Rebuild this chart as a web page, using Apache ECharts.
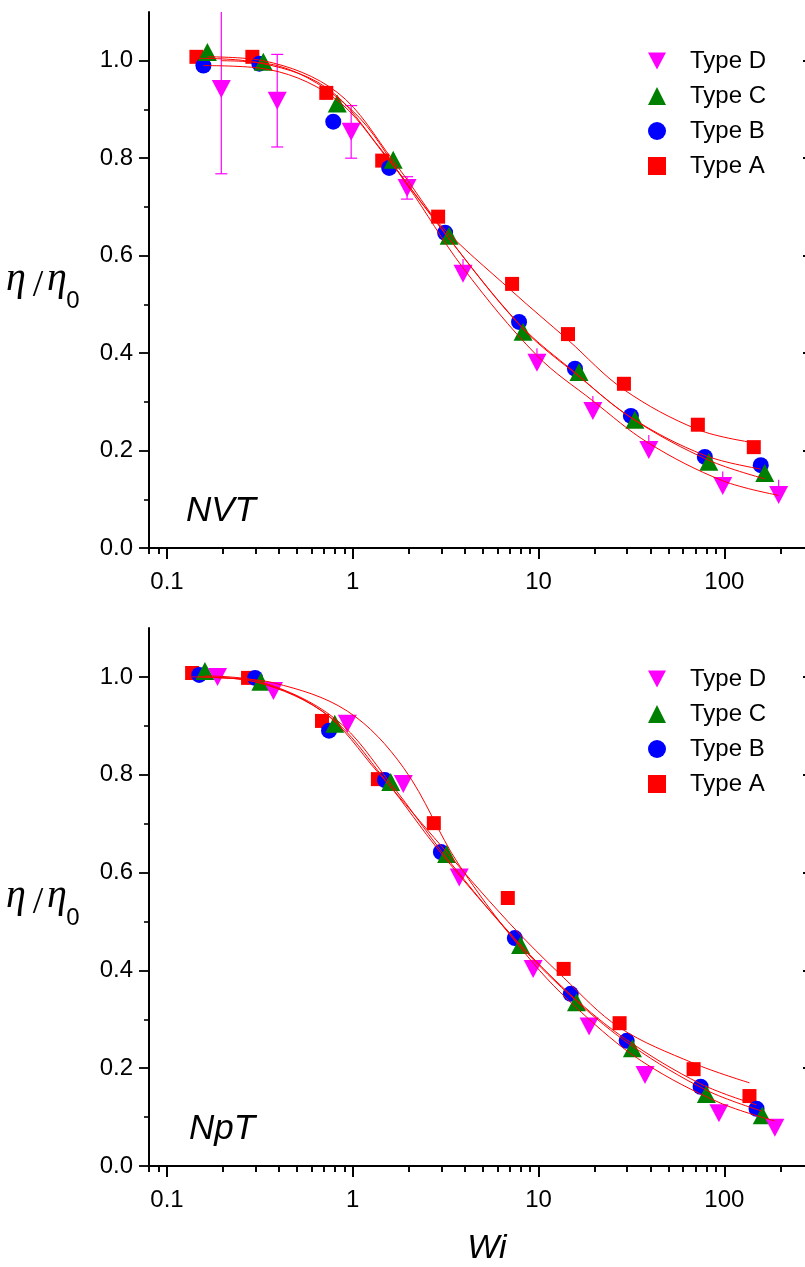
<!DOCTYPE html>
<html>
<head>
<meta charset="utf-8">
<script src="https://cdn.jsdelivr.net/npm/echarts@6/dist/echarts.min.js"></script>
<style>html,body{margin:0;padding:0;background:#fff}#c{width:805px;height:1267px}</style>
</head>
<body>
<div id="c"></div>
<script>
// ---------- data ----------
const LEGEND_ORDER = ['Type D', 'Type C', 'Type B', 'Type A'];
const X_MAJOR = [0.1, 1, 10, 100];
const X_MINOR = [0.08, 0.09, 0.2, 0.3, 0.4, 0.5, 0.6, 0.7, 0.8, 0.9, 2, 3, 4, 5, 6, 7, 8, 9, 20, 30, 40, 50, 60, 70, 80, 90, 200, 300];
const Y_MAJOR = [0, 0.2, 0.4, 0.6, 0.8, 1.0];
const Y_MINOR = [0.1, 0.3, 0.5, 0.7, 0.9];

// NVT (top panel)
const nvtA_x = [0.144, 0.288, 0.72, 1.44, 2.88, 7.2, 14.4, 28.8, 72, 144];
const nvtA_y = [1.008, 1.008, 0.934, 0.795, 0.680, 0.542, 0.439, 0.337, 0.253, 0.207];
const nvtB_x = [0.157, 0.314, 0.785, 1.57, 3.14, 7.85, 15.7, 31.4, 78.5, 157];
const nvtB_y = [0.990, 0.994, 0.875, 0.780, 0.647, 0.464, 0.368, 0.271, 0.187, 0.170];
const nvtC_x = [0.165, 0.33, 0.825, 1.65, 3.3, 8.25, 16.5, 33, 82.5, 165];
const nvtC_y = [1.018, 0.998, 0.912, 0.797, 0.641, 0.444, 0.361, 0.263, 0.177, 0.154];
const nvtD_x = [0.196, 0.392, 0.98, 1.96, 3.92, 9.8, 19.6, 39.2, 98, 196];
const nvtD_y = [0.942, 0.918, 0.854, 0.739, 0.563, 0.380, 0.281, 0.201, 0.127, 0.109];
const nvtD_errUp = [0.174, 0.095, 0.054, 0.023, 0.030, 0.030, 0.031, 0.031, 0.030, 0.031];
const nvtD_errDown = [0.174, 0.095, 0.054, 0.023, 0, 0, 0, 0, 0, 0];
const nvtA_fit = [1.005, 0.998, 0.945, 0.815, 0.668, 0.527, 0.427, 0.325, 0.243, 0.216];
const nvtB_fit = [0.990, 0.985, 0.925, 0.795, 0.645, 0.460, 0.360, 0.268, 0.190, 0.162];
const nvtC_fit = [1.008, 1.000, 0.935, 0.795, 0.635, 0.450, 0.352, 0.262, 0.180, 0.142];
const nvtD_fit = [1.000, 0.990, 0.900, 0.745, 0.575, 0.395, 0.302, 0.215, 0.138, 0.108];

// NpT (bottom panel)
const nptA_x = [0.1365, 0.273, 0.683, 1.365, 2.73, 6.83, 13.65, 27.3, 68.3, 136.5];
const nptA_y = [1.008, 0.998, 0.910, 0.791, 0.701, 0.548, 0.403, 0.292, 0.198, 0.143];
const nptB_x = [0.149, 0.298, 0.745, 1.49, 2.98, 7.45, 14.9, 29.8, 74.5, 149];
const nptB_y = [1.004, 0.998, 0.890, 0.789, 0.642, 0.466, 0.352, 0.256, 0.162, 0.117];
const nptC_x = [0.16, 0.32, 0.8, 1.6, 3.2, 8.0, 16, 32, 80, 160];
const nptC_y = [1.012, 0.990, 0.904, 0.785, 0.638, 0.452, 0.335, 0.241, 0.147, 0.104];
const nptD_x = [0.187, 0.374, 0.935, 1.87, 3.74, 9.35, 18.7, 37.4, 93.5, 187];
const nptD_y = [1.000, 0.971, 0.904, 0.781, 0.590, 0.403, 0.285, 0.186, 0.108, 0.078];
const nptA_fit = [1.000, 0.993, 0.930, 0.805, 0.672, 0.500, 0.385, 0.283, 0.210, 0.170];
const nptB_fit = [1.000, 0.990, 0.920, 0.790, 0.640, 0.465, 0.350, 0.258, 0.168, 0.125];
const nptC_fit = [1.002, 0.990, 0.915, 0.782, 0.630, 0.450, 0.337, 0.245, 0.155, 0.112];
const nptD_fit = [0.998, 0.988, 0.930, 0.815, 0.615, 0.415, 0.300, 0.210, 0.130, 0.092];

// ---------- styling ----------
const FONT = "'Liberation Sans', Arial, Helvetica, sans-serif";
const SERIF = "'Liberation Serif', 'Times New Roman', serif";
const COLORS = {A: '#ff0000', B: '#0000ff', C: '#008000', D: '#ff00ff'};
const INV_TRI = 'path://M0,0 L10,0 L5,9.5 Z';
const GRIDS = [
  {left: 149, top: 12, width: 664, height: 536, outerBoundsMode: 'none', containLabel: false},
  {left: 149, top: 628, width: 664, height: 538, outerBoundsMode: 'none', containLabel: false}
];

function zip(xs, ys) { return xs.map((x, i) => [x, ys[i]]); }

const xAxes = [], yAxes = [];
GRIDS.forEach((g, gi) => {
  const baseX = {type: 'log', logBase: 10, min: 0.08, max: 300, gridIndex: gi, splitLine: {show: false}, splitArea: {show: false}};
  const lineOn = {show: true, lineStyle: {color: '#000', width: 2}};
  xAxes.push(Object.assign({}, baseX, {
    position: 'bottom', axisLine: lineOn,
    axisTick: {show: true, customValues: X_MAJOR, length: 11, lineStyle: {color: '#000', width: 1.8}},
    axisLabel: {show: true, customValues: X_MAJOR, margin: 22, fontSize: 24, color: '#000', fontFamily: FONT,
      formatter: v => String(+v.toPrecision(3))},
    name: gi === 1 ? 'Wi' : '', nameLocation: 'middle', nameGap: 66,
    nameTextStyle: {fontSize: 34, fontStyle: 'italic', color: '#000', fontFamily: FONT, padding: [0, 0, 0, 12]}
  }));
  xAxes.push(Object.assign({}, baseX, {
    position: 'bottom', axisLine: {show: false},
    axisTick: {show: true, customValues: X_MINOR, length: 6, lineStyle: {color: '#000', width: 1.6}},
    axisLabel: {show: false}
  }));
  xAxes.push(Object.assign({}, baseX, {
    position: 'top', axisLine: lineOn,
    axisTick: {show: true, inside: true, customValues: X_MAJOR, length: 11, lineStyle: {color: '#000', width: 1.8}},
    axisLabel: {show: false}
  }));
  xAxes.push(Object.assign({}, baseX, {
    position: 'top', axisLine: {show: false},
    axisTick: {show: true, inside: true, customValues: X_MINOR, length: 6, lineStyle: {color: '#000', width: 1.6}},
    axisLabel: {show: false}
  }));

  const baseY = {type: 'value', min: 0, max: 1.1, gridIndex: gi, splitLine: {show: false}};
  yAxes.push(Object.assign({}, baseY, {
    position: 'left', axisLine: lineOn,
    axisTick: {show: true, customValues: Y_MAJOR, length: 10, lineStyle: {color: '#000', width: 1.8}},
    axisLabel: {show: true, customValues: Y_MAJOR, margin: 16, fontSize: 24, color: '#000', fontFamily: FONT,
      formatter: v => Number(v).toFixed(1)}
  }));
  yAxes.push(Object.assign({}, baseY, {
    position: 'left', axisLine: {show: false},
    axisTick: {show: true, customValues: Y_MINOR, length: 5, lineStyle: {color: '#000', width: 1.6}},
    axisLabel: {show: false}
  }));
  yAxes.push(Object.assign({}, baseY, {
    position: 'right', axisLine: lineOn,
    axisTick: {show: true, inside: true, customValues: Y_MAJOR, length: 10, lineStyle: {color: '#000', width: 1.8}},
    axisLabel: {show: false}
  }));
  yAxes.push(Object.assign({}, baseY, {
    position: 'right', axisLine: {show: false},
    axisTick: {show: true, inside: true, customValues: Y_MINOR, length: 5, lineStyle: {color: '#000', width: 1.6}},
    axisLabel: {show: false}
  }));
});

function scatter(name, gi, data, type) {
  const s = {
    name: name, type: 'scatter', xAxisIndex: gi * 4, yAxisIndex: gi * 4, data: data, z: 2,
    itemStyle: {opacity: 1}
  };
  if (type === 'A') { s.symbol = 'rect'; s.symbolSize = 14; s.itemStyle.color = COLORS.A; }
  if (type === 'B') { s.symbol = 'circle'; s.symbolSize = 16; s.itemStyle.color = COLORS.B; }
  if (type === 'C') { s.symbol = 'triangle'; s.symbolSize = [19, 18]; s.itemStyle.color = COLORS.C; }
  if (type === 'D') { s.symbol = INV_TRI; s.symbolSize = [19, 18]; s.itemStyle.color = COLORS.D; }
  return s;
}
function fit(name, gi, data) {
  return {
    name: name, type: 'line', xAxisIndex: gi * 4, yAxisIndex: gi * 4, data: data, z: 4,
    showSymbol: false, symbol: 'none', smooth: 0.35, silent: true,
    lineStyle: {color: '#ff0000', width: 1}
  };
}
const errBars = {
  name: 'errD', type: 'custom', xAxisIndex: 0, yAxisIndex: 0, z: 3, clip: true, silent: true,
  encode: {x: 0, y: 1},
  data: nvtD_x.map((x, i) => [x, nvtD_y[i], nvtD_errUp[i], nvtD_errDown[i]]),
  renderItem: function (params, api) {
    const x = api.value(0), y = api.value(1), eu = api.value(2), ed = api.value(3);
    const t = api.coord([x, y + eu]), b = api.coord([x, y - ed]);
    const hw = 6, st = {stroke: '#ff00ff', lineWidth: 1.2};
    const children = [{type: 'line', shape: {x1: t[0], y1: t[1], x2: b[0], y2: b[1]}, style: st}];
    if (ed > 0) {
      children.push({type: 'line', shape: {x1: t[0] - hw, y1: t[1], x2: t[0] + hw, y2: t[1]}, style: st});
      children.push({type: 'line', shape: {x1: b[0] - hw, y1: b[1], x2: b[0] + hw, y2: b[1]}, style: st});
    }
    return {type: 'group', children: children};
  }
};

const series = [
  scatter('Type A', 0, zip(nvtA_x, nvtA_y), 'A'),
  scatter('Type B', 0, zip(nvtB_x, nvtB_y), 'B'),
  scatter('Type C', 0, zip(nvtC_x, nvtC_y), 'C'),
  errBars,
  scatter('Type D', 0, zip(nvtD_x, nvtD_y), 'D'),
  fit('fitA', 0, zip(nvtA_x, nvtA_fit)),
  fit('fitB', 0, zip(nvtB_x, nvtB_fit)),
  fit('fitC', 0, zip(nvtC_x, nvtC_fit)),
  fit('fitD', 0, zip(nvtD_x, nvtD_fit)),
  scatter('Type A', 1, zip(nptA_x, nptA_y), 'A'),
  scatter('Type B', 1, zip(nptB_x, nptB_y), 'B'),
  scatter('Type C', 1, zip(nptC_x, nptC_y), 'C'),
  scatter('Type D', 1, zip(nptD_x, nptD_y), 'D'),
  fit('fitA', 1, zip(nptA_x, nptA_fit)),
  fit('fitB', 1, zip(nptB_x, nptB_fit)),
  fit('fitC', 1, zip(nptC_x, nptC_fit)),
  fit('fitD', 1, zip(nptD_x, nptD_fit))
];

function legendAt(top) {
  return {
    data: LEGEND_ORDER, orient: 'vertical', left: 648, top: top, padding: 0,
    itemWidth: 18, itemHeight: 18, itemGap: 11, selectedMode: false,
    textStyle: {fontSize: 24, color: '#000', fontFamily: FONT, padding: [0, 0, 0, 19]}
  };
}

function yLabel(dy) {
  return [
    {type: 'text', x: 16, y: 279 + dy, style: {text: 'η', fontSize: 40, fontStyle: 'italic', fontFamily: SERIF, fill: '#000', align: 'center', verticalAlign: 'middle'}},
    {type: 'text', x: 38, y: 286 + dy, style: {text: '/', fontSize: 38, fontFamily: SERIF, fill: '#000', align: 'center', verticalAlign: 'middle'}},
    {type: 'text', x: 57, y: 279 + dy, style: {text: 'η', fontSize: 40, fontStyle: 'italic', fontFamily: SERIF, fill: '#000', align: 'center', verticalAlign: 'middle'}},
    {type: 'text', x: 73, y: 301 + dy, style: {text: '0', fontSize: 24, fontFamily: FONT, fill: '#000', align: 'center', verticalAlign: 'middle'}}
  ];
}

const option = {
  animation: false,
  backgroundColor: '#ffffff',
  grid: GRIDS,
  xAxis: xAxes,
  yAxis: yAxes,
  legend: [legendAt(49), legendAt(667)],
  series: series,
  graphic: [].concat(
    yLabel(0), yLabel(617),
    [
      {type: 'text', x: 186, y: 511, style: {text: 'NVT', fontSize: 35, fontStyle: 'italic', fontFamily: FONT, fill: '#000', align: 'left', verticalAlign: 'middle'}},
      {type: 'text', x: 189, y: 1129, style: {text: 'NpT', fontSize: 35, fontStyle: 'italic', fontFamily: FONT, fill: '#000', align: 'left', verticalAlign: 'middle'}}
    ]
  )
};

const chart = echarts.init(document.getElementById('c'), null, {renderer: 'canvas'});
chart.setOption(option);
</script>
</body>
</html>
